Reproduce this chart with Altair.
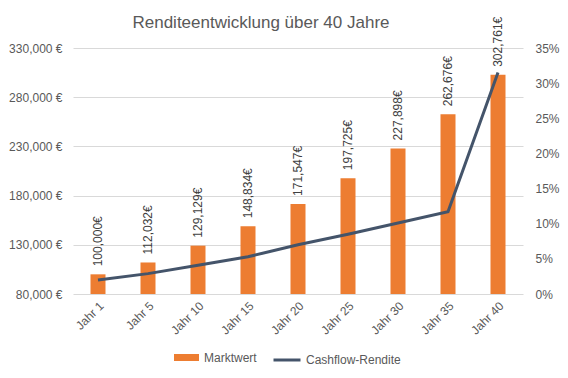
import altair as alt
import pandas as pd

years = ["Jahr 1", "Jahr 5", "Jahr 10", "Jahr 15", "Jahr 20", "Jahr 25", "Jahr 30", "Jahr 35", "Jahr 40"]
marktwert = [100000, 112032, 129129, 148834, 171547, 197725, 227898, 262676, 302761]
rendite = [0.020, 0.029, 0.041, 0.053, 0.070, 0.085, 0.101, 0.117, 0.315]
left_ticks = [80000, 130000, 180000, 230000, 280000, 330000]
right_ticks = [0, 0.05, 0.10, 0.15, 0.20, 0.25, 0.30, 0.35]

df = pd.DataFrame({
    "Jahr": years,
    "Marktwert": marktwert,
    "Rendite": rendite,
    "s1": ["Marktwert"] * len(years),
    "s2": ["Cashflow-Rendite"] * len(years),
})

FONT = "Liberation Sans"
GREY = "#595959"

x = alt.X("Jahr:N", sort=years, title=None,
          scale=alt.Scale(paddingInner=0.7, paddingOuter=0.35),
          axis=alt.Axis(labelAngle=-45, labelAlign="right", labelBaseline="top",
                        labelPadding=6, ticks=False, domain=False,
                        labelFontSize=12, labelColor=GREY, labelFont=FONT))

yscale = alt.Scale(domain=[80000, 330000], zero=False, nice=False)

bars = alt.Chart(df).mark_bar(clip=False).encode(
    x=x,
    y=alt.Y("Marktwert:Q", scale=yscale, title=None,
            axis=alt.Axis(values=left_ticks, labelExpr="format(datum.value, ',') + ' €'",
                          grid=True, gridColor="#D9D9D9", gridWidth=1, ticks=False,
                          domain=False, labelPadding=11, labelFontSize=12,
                          labelColor=GREY, labelFont=FONT)),
    y2=alt.datum(80000),
    color=alt.Color("s1:N", scale=alt.Scale(domain=["Marktwert"], range=["#ED7D31"]),
                    legend=alt.Legend(title=None, orient="none", legendX=101, legendY=297,
                                      symbolType="M-1,-0.28H1V0.28H-1Z", symbolSize=625,
                                      symbolStrokeWidth=0, labelFontSize=12,
                                      labelColor=GREY, labelFont=FONT, labelOffset=5)),
)

labels = alt.Chart(df).mark_text(angle=270, align="left", baseline="middle", dx=8,
                                 fontSize=12, font=FONT, color="#404040").encode(
    x=alt.X("Jahr:N", sort=years),
    y=alt.Y("Marktwert:Q", scale=yscale),
    text=alt.Text("lbl:N"),
).transform_calculate(lbl="format(datum.Marktwert, ',') + '€'")

line = alt.Chart(df).mark_line(strokeWidth=3).encode(
    x=alt.X("Jahr:N", sort=years),
    y=alt.Y("Rendite:Q", scale=alt.Scale(domain=[0, 0.35], nice=False), title=None,
            axis=alt.Axis(orient="right", values=right_ticks, format=".0%", grid=False,
                          ticks=False, domain=False, labelPadding=12, labelFontSize=12,
                          labelColor=GREY, labelFont=FONT)),
    stroke=alt.Stroke("s2:N", scale=alt.Scale(domain=["Cashflow-Rendite"], range=["#44546A"]),
                      legend=alt.Legend(title=None, orient="none", legendX=199, legendY=297,
                                        symbolType="stroke", symbolSize=729,
                                        symbolStrokeWidth=3, labelFontSize=12,
                                        labelColor=GREY, labelFont=FONT, labelOffset=4)),
)

left = alt.layer(bars, labels)
chart = alt.layer(left, line).resolve_scale(y="independent").properties(
    width=450,
    height=246,
    title=alt.Title("Renditeentwicklung über 40 Jahre", fontSize=17, font=FONT,
                    fontWeight="normal", color=GREY, frame="group", anchor="middle",
                    dx=-37, dy=31, offset=16),
    autosize=alt.AutoSizeParams(type="none"),
    padding={"left": 65, "top": 40, "right": 37, "bottom": 80},
).configure_view(stroke=None)

chart.save("out.html", embed_options={"renderer": "svg", "actions": False})
